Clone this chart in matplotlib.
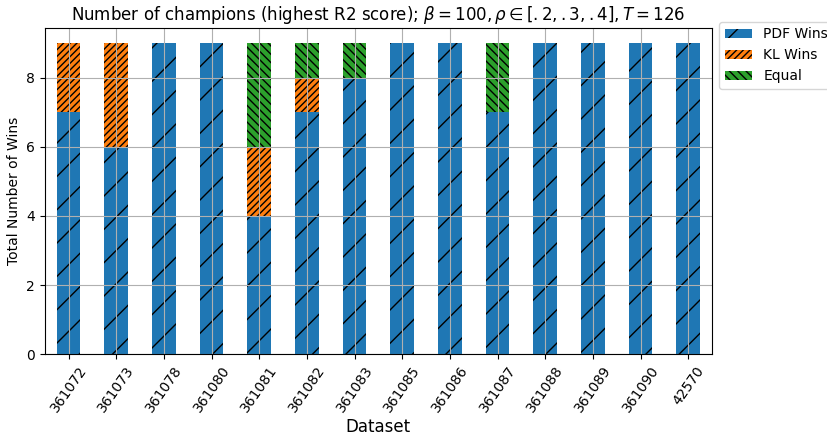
import matplotlib
matplotlib.use("Agg")
import matplotlib.pyplot as plt
import numpy as np

datasets = ["361072", "361073", "361078", "361080", "361081", "361082", "361083",
            "361085", "361086", "361087", "361088", "361089", "361090", "42570"]
pdf_wins = [7, 6, 9, 9, 4, 7, 8, 9, 9, 7, 9, 9, 9, 9]
kl_wins = [2, 3, 0, 0, 2, 1, 0, 0, 0, 0, 0, 0, 0, 0]
equal = [0, 0, 0, 0, 3, 1, 1, 0, 0, 2, 0, 0, 0, 0]

fig = plt.figure(figsize=(8.28, 4.36), dpi=100)
ax = fig.add_axes([0.054, 0.188, 0.806, 0.748])

x = np.arange(len(datasets))
w = 0.5
pdf = np.array(pdf_wins)
kl = np.array(kl_wins)
eq = np.array(equal)

ax.bar(x, pdf, w, color="#1f77b4", hatch="/", label="PDF Wins")
ax.bar(x, kl, w, bottom=pdf, color="#ff7f0e", hatch="/////", label="KL Wins")
ax.bar(x, eq, w, bottom=pdf + kl, color="#2ca02c", hatch="\\\\\\\\", label="Equal")

ax.set_xlim(-0.5, len(datasets) - 0.5)
ax.set_ylim(0, 9.45)
ax.set_xticks(x)
ax.set_xticklabels(datasets, rotation=55)
ax.grid(True)

ax.set_title(r"Number of champions (highest R2 score); $\beta = 100, \rho \in [.2, .3, .4], T = 126$",
             fontsize=12)
ax.set_xlabel("Dataset", fontsize=12, labelpad=2)
ax.set_ylabel("Total Number of Wins")
ax.legend(loc="upper left", bbox_to_anchor=(1.0, 1.04))

fig.savefig("out.png", dpi=100)
